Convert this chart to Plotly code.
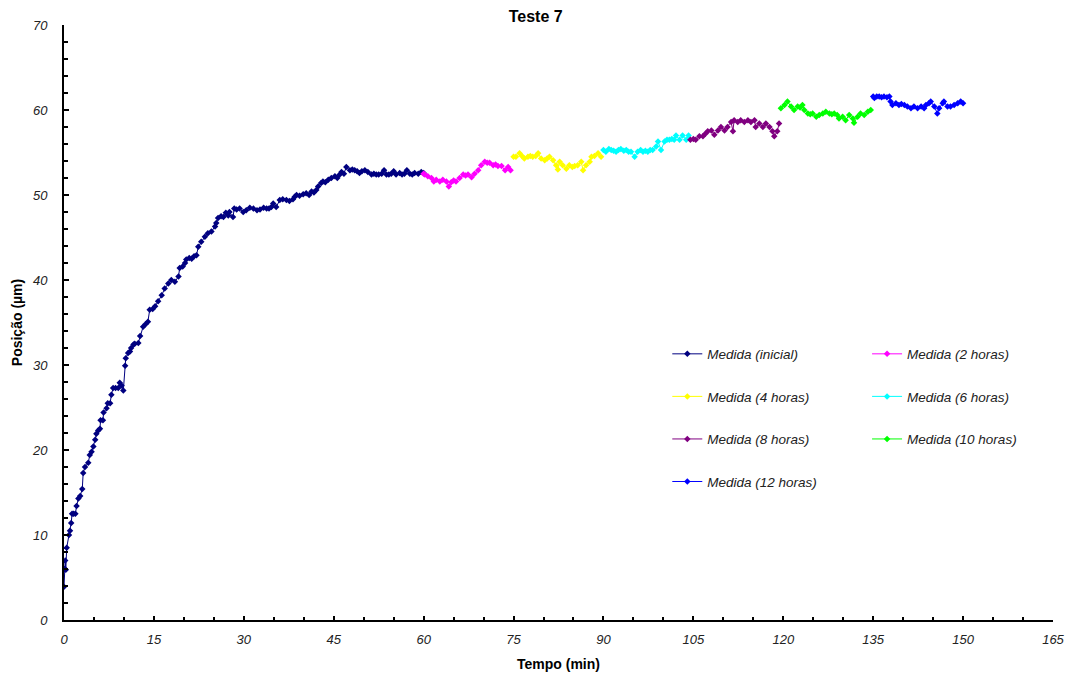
import plotly.graph_objects as go

# ---- data ----
x_inicial = [0, 0.1, 0.2, 0.3, 0.45, 0.83, 1.0, 1.2, 1.35, 1.6, 1.9, 2.1, 2.4, 2.7, 3.05, 3.2, 3.5, 4.05, 4.3, 4.6,
             4.9, 5.2, 5.4, 5.7, 6.0, 6.1, 6.5, 6.6, 7.1, 7.3, 7.7, 7.9, 8.2, 8.6, 9.05, 9.3, 9.6, 9.9, 10.2, 10.3,
             10.7, 11.0, 11.2, 11.6, 11.8, 12.4, 12.7, 13.2, 13.6, 14.0, 14.3, 14.8, 15.2, 15.7, 16.3, 16.8, 17.4,
             17.9, 18.5, 19.1, 19.3, 19.8, 20.2, 20.4, 20.9, 21.3, 21.7, 22.1, 22.4, 22.9, 23.5, 24.0, 24.6, 25.2,
             25.4, 25.7, 26.2, 26.6, 27.0, 27.4, 27.6, 28.2, 28.4, 28.8, 29.3, 29.9, 30.4, 31.0, 31.6, 32.2, 32.7,
             33.3, 33.8, 34.2, 34.6, 34.9, 35.4, 36.0, 36.5, 37.1, 37.6, 38.2, 38.5, 38.8, 39.3, 39.9, 40.4, 40.9,
             41.3, 41.7, 42.1, 42.4, 42.9, 43.2, 43.6, 44.1, 44.6, 45.2, 45.6, 46.0, 46.3, 46.7, 47.1, 47.7, 48.1,
             48.5, 48.9, 49.3, 49.7, 50.2, 50.7, 51.3, 51.7, 52.1, 52.5, 53.0, 53.4, 53.8, 54.2, 54.6, 55.0, 55.4,
             56.0, 56.4, 56.8, 57.2, 57.7, 58.1, 58.5, 59.1, 59.6, 60.0]
y_inicial = [3.9, 6.0, 7.0, 5.9, 8.5, 10.0, 10.5, 11.4, 12.5, 12.5, 12.5, 13.4, 14.3, 14.6, 15.4, 17.3, 18.0, 18.5, 19.4, 19.8,
             20.4, 21.2, 21.9, 22.3, 22.5, 23.5, 23.5, 24.4, 24.9, 25.5, 25.5, 26.5, 27.3, 27.3, 27.3, 27.9, 27.6, 27.0, 29.9, 30.8,
             31.4, 31.6, 32.0, 32.4, 32.5, 32.6, 33.4, 34.5, 34.8, 35.1, 36.5, 36.6, 36.9, 37.5, 38.2, 39.0, 39.6,
             40.0, 39.8, 40.4, 41.4, 41.6, 42.0, 42.4, 42.6, 42.5, 42.8, 42.9, 43.9, 44.5, 45.1, 45.5, 45.7, 46.3,
             46.7, 47.3, 47.5, 47.4, 47.9, 47.6, 48.0, 47.4, 48.4, 48.3, 48.4, 48.0, 48.2, 48.5, 48.4, 48.2, 48.3,
             48.5, 48.4, 48.4, 48.6, 49.0, 48.6, 49.4, 49.5, 49.4, 49.3, 49.5, 49.8, 50.0, 49.9, 50.1, 50.2, 50.0,
             50.4, 50.3, 50.6, 51.0, 51.4, 51.6, 51.5, 51.8, 52.0, 52.2, 52.0, 52.4, 52.7, 52.5, 53.3, 52.9, 53.0,
             52.9, 52.8, 52.6, 52.8, 52.9, 52.7, 52.4, 52.5, 52.4, 52.4, 52.5, 52.9, 52.4, 52.4, 52.5, 52.8, 52.4,
             52.6, 52.4, 52.5, 52.9, 52.5, 52.4, 52.6, 52.5, 52.7, 52.6]

x_2h = [60.0, 60.2, 60.7, 61.3, 61.7, 62.1, 62.7, 63.2, 63.8, 64.2, 64.6, 65.0, 65.4, 66.0, 66.6, 67.0, 67.4, 68.0,
        68.5, 69.1, 69.6, 70.2, 70.6, 71.0, 71.6, 72.0, 72.4, 73.0, 73.6, 74.1, 74.5]
y_2h = [52.5, 52.4, 52.2, 52.0, 51.6, 51.8, 51.6, 51.8, 51.6, 51.0, 51.5, 51.7, 51.6, 52.0, 52.4, 52.3, 52.4, 52.1,
        52.5, 52.9, 53.5, 53.9, 53.8, 53.8, 53.5, 53.6, 53.4, 53.4, 52.9, 53.3, 52.9]

x_4h = [75.0, 75.4, 76.0, 76.4, 76.8, 77.4, 77.8, 78.2, 78.7, 79.1, 79.6, 80.2, 80.6, 81.0, 81.6, 82.1, 82.4, 82.7,
        83.2, 83.8, 84.3, 84.8, 85.2, 85.7, 86.3, 86.6, 87.1, 87.7, 88.0, 88.5, 89.1, 89.6]
y_4h = [54.5, 54.5, 54.9, 54.6, 54.3, 54.5, 54.6, 54.5, 54.6, 54.9, 54.3, 54.1, 54.3, 54.5, 54.1, 53.5, 53.0, 53.9,
        53.5, 53.1, 53.5, 53.3, 53.4, 53.5, 53.9, 52.9, 53.5, 53.9, 54.5, 54.6, 54.9, 54.5]

x_6h = [90.0, 90.4, 90.9, 91.3, 91.7, 92.1, 92.5, 92.9, 93.4, 93.8, 94.2, 94.6, 95.2, 95.7, 96.2, 96.6, 97.0, 97.4,
        97.8, 98.2, 98.8, 99.1, 99.6, 100.2, 100.6, 101.0, 101.4, 101.8, 102.1, 102.7, 103.2, 103.8, 104.2]
y_6h = [55.3, 55.1, 55.4, 55.3, 55.2, 55.1, 55.3, 55.4, 55.2, 55.3, 55.1, 55.1, 54.5, 55.1, 55.3, 55.1, 55.2, 55.1,
        55.3, 55.3, 55.7, 56.3, 55.3, 56.3, 56.5, 56.5, 56.6, 56.5, 57.0, 56.5, 57.0, 56.5, 57.0]

x_8h = [104.5, 105.0, 105.4, 106.0, 106.6, 107.0, 107.4, 108.0, 108.5, 109.1, 109.6, 110.2, 110.7, 111.3, 111.6,
        111.8, 112.4, 112.9, 113.5, 114.1, 114.6, 115.2, 115.4, 116.0, 116.6, 117.1, 117.7, 118.2, 118.5, 119.0, 119.3]
y_8h = [56.5, 56.6, 56.5, 56.9, 56.9, 57.2, 57.5, 57.6, 57.1, 57.6, 58.0, 57.6, 58.0, 58.6, 57.5,
        58.8, 58.6, 58.8, 58.6, 58.8, 58.6, 58.8, 58.0, 58.4, 58.0, 58.4, 58.0, 57.5, 56.9, 57.5, 58.4]

x_10h = [119.6, 120.2, 120.7, 121.3, 121.8, 122.4, 122.8, 123.2, 123.5, 124.1, 124.5, 124.9, 125.5, 126.0, 126.6,
         127.1, 127.7, 128.1, 128.5, 129.0, 129.3, 129.9, 130.4, 131.0, 131.6, 131.8, 132.4, 132.9, 133.5, 134.1, 134.6]
y_10h = [60.2, 60.6, 61.0, 60.4, 60.0, 60.4, 60.3, 60.6, 60.0, 59.6, 59.5, 59.6, 59.2, 59.4, 59.6,
         59.8, 59.6, 59.5, 59.6, 59.4, 59.0, 59.2, 58.8, 59.4, 59.0, 58.5, 59.2, 59.6, 59.4, 59.8, 60.0]

x_12h = [135.0, 135.2, 135.6, 136.0, 136.4, 136.8, 137.3, 137.7, 137.9, 138.2, 138.8, 139.3, 139.7, 140.2, 140.7,
         141.3, 141.8, 142.4, 143.0, 143.5, 143.8, 144.3, 144.6, 145.2, 145.7, 146.0, 146.6, 146.8, 147.4, 147.9,
         148.5, 149.1, 149.6, 150.0]
y_12h = [61.6, 61.4, 61.6, 61.6, 61.5, 61.6, 61.5, 61.6, 61.0, 60.6, 60.8, 60.6, 60.7, 60.6, 60.4,
         60.2, 60.4, 60.2, 60.4, 60.2, 60.6, 60.8, 61.0, 60.4, 59.6, 60.2, 60.8, 61.0, 60.4, 60.4,
         60.6, 60.8, 61.0, 60.8]

x_ticks = [0, 15, 30, 45, 60, 75, 90, 105, 120, 135, 150, 165]
y_ticks = [0, 10, 20, 30, 40, 50, 60, 70]

series = [
    ("Medida (inicial)", x_inicial, y_inicial, "#000080", "legend"),
    ("Medida (2 horas)", x_2h, y_2h, "#FF00FF", "legend2"),
    ("Medida (4 horas)", x_4h, y_4h, "#FFFF00", "legend"),
    ("Medida (6 horas)", x_6h, y_6h, "#00FFFF", "legend2"),
    ("Medida (8 horas)", x_8h, y_8h, "#800080", "legend"),
    ("Medida (10 horas)", x_10h, y_10h, "#00FF00", "legend2"),
    ("Medida (12 horas)", x_12h, y_12h, "#0000FF", "legend"),
]

FONT = "Liberation Sans, Arial, sans-serif"

fig = go.Figure()
for i, (name, xs, ys, col, lg) in enumerate(series):
    fig.add_trace(go.Scatter(
        x=xs, y=ys, name=name, mode="lines+markers",
        line=dict(color=col, width=1),
        marker=dict(symbol="diamond", size=5, color=col),
        legend=lg, legendgroup=f"g{i}",
    ))

legend_common = dict(
    bgcolor="rgba(0,0,0,0)", borderwidth=0,
    font=dict(family=FONT, size=13.5, color="#222222", style="italic"),
    tracegroupgap=22, itemwidth=30, yanchor="top", xanchor="left",
    orientation="v", traceorder="grouped",
)

fig.update_layout(
    width=1065, height=679,
    margin=dict(l=64, r=12, t=25, b=59),
    paper_bgcolor="white", plot_bgcolor="white",
    font=dict(family=FONT, size=12, color="#222222"),
    title=dict(text="<b>Teste 7</b>", x=0.503, xanchor="center",
               y=1 - 16 / 679, yref="container", yanchor="middle",
               font=dict(family=FONT, size=16, color="black")),
    showlegend=True,
    legend=dict(x=0.61, y=0.473, **legend_common),
    legend2=dict(x=0.812, y=0.473, **legend_common),
    xaxis=dict(
        range=[0, 165], tickvals=x_ticks, ticktext=[str(v) for v in x_ticks],
        automargin=False, ticklabeloverflow="allow",
        showline=True, linecolor="black", linewidth=2, mirror=False,
        ticks="inside", ticklen=4, tickwidth=2, tickcolor="black",
        minor=dict(dtick=5, ticks="inside", ticklen=3, tickwidth=2, tickcolor="black"),
        showgrid=False, zeroline=False,
        tickfont=dict(family=FONT, size=13, color="#222222", style="italic"),
        ticklabelstandoff=6,
        title=dict(text="<b>Tempo (min)</b>", font=dict(family=FONT, size=14, color="black"), standoff=14),
    ),
    yaxis=dict(
        range=[0, 70], tickvals=y_ticks, ticktext=[str(v) for v in y_ticks],
        automargin=False, ticklabeloverflow="allow",
        showline=True, linecolor="black", linewidth=2, mirror=False,
        ticks="inside", ticklen=5, tickwidth=2, tickcolor="black",
        minor=dict(dtick=2, ticks="inside", ticklen=4, tickwidth=2, tickcolor="black"),
        showgrid=False, zeroline=False,
        tickfont=dict(family=FONT, size=13, color="#222222", style="italic"),
        ticklabelstandoff=12,
        title=dict(text="<b>Posição (µm)</b>", font=dict(family=FONT, size=14, color="black"), standoff=6),
    ),
)

fig.write_html("out.html")
